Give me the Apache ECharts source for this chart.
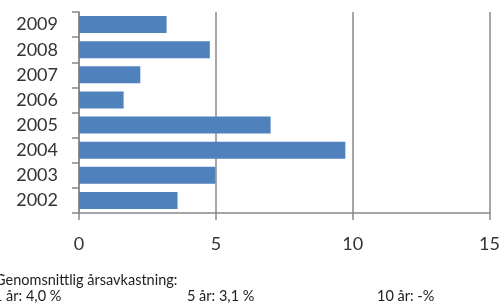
<!DOCTYPE html>
<html>
<head>
<meta charset="utf-8">
<script src="https://cdn.jsdelivr.net/npm/echarts@6/dist/echarts.min.js"></script>
<style>
  html, body { margin: 0; padding: 0; background: #fff; }
  #chart { width: 503px; height: 305px; }
</style>
</head>
<body>
<div id="chart"></div>
<script>
// years, bottom to top
const years = ['2002', '2003', '2004', '2005', '2006', '2007', '2008', '2009'];
const returns = [3.6, 4.98, 9.73, 7.0, 1.63, 2.24, 4.78, 3.2];
const xTicks = [0, 5, 10, 15];
const footerTitle = 'Genomsnittlig årsavkastning:';
const footerItems = ['1 år: 4,0 %', '5 år: 3,1 %', '10 år: -%'];
const footerX = [-6, 187, 377];

const chart = echarts.init(document.getElementById('chart'));

const footer = [{
    type: 'text', left: -5, top: 273,
    style: { text: footerTitle, font: '14.5px Lato, sans-serif', fill: '#222' }
}];
footerItems.forEach(function (t, i) {
    footer.push({
        type: 'text', left: footerX[i], top: 289,
        style: { text: t, font: '14.5px Lato, sans-serif', fill: '#222' }
    });
});

chart.setOption({
    animation: false,
    grid: { left: 79, right: 11, top: 12, bottom: 92 },
    xAxis: {
        type: 'value',
        min: xTicks[0],
        max: xTicks[xTicks.length - 1],
        interval: 5,
        axisLine: { show: true, lineStyle: { color: '#888', width: 1.5 } },
        axisTick: { show: true, length: 7, lineStyle: { color: '#888', width: 1.5 } },
        splitLine: { show: true, lineStyle: { color: '#888', width: 1.5 } },
        axisLabel: { margin: 22, fontSize: 18, color: '#333', fontFamily: 'Lato' }
    },
    yAxis: {
        type: 'category',
        data: years,
        axisLine: { show: true, lineStyle: { color: '#888', width: 1.5 } },
        axisTick: { show: true, length: 7, lineStyle: { color: '#888', width: 1.5 } },
        axisLabel: { margin: 21, fontSize: 18, color: '#333', fontFamily: 'Lato' }
    },
    series: [{
        type: 'bar',
        data: returns,
        barCategoryGap: '32%',
        itemStyle: { color: '#4F81BD' }
    }],
    graphic: footer
});
</script>
</body>
</html>
